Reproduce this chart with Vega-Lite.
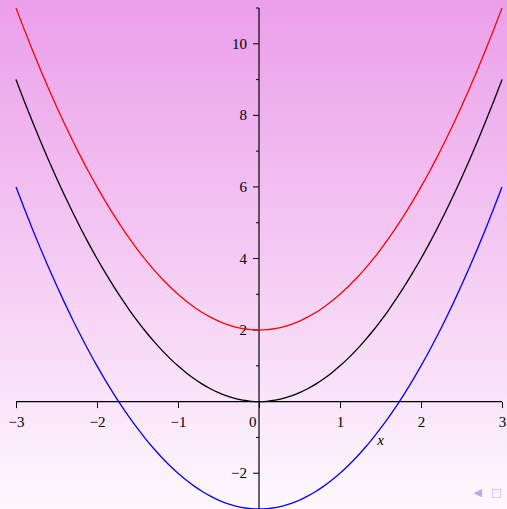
{
  "$schema": "https://vega.github.io/schema/vega-lite/v6.json",
  "width": 507,
  "height": 509,
  "padding": 0,
  "autosize": "none",
  "background": "#fef9fe",
  "config": {
    "view": {"stroke": null},
    "axis": {
      "labelColor": "#000000",
      "tickColor": "#000000",
      "tickWidth": 1,
      "domain": false,
      "grid": false,
      "labelOverlap": false,
      "labelFlush": false
    }
  },
  "layer": [
    {
      "data": {"values": [{}]},
      "mark": {
        "type": "rect",
        "fill": {
          "gradient": "linear",
          "x1": 0, "y1": 0, "x2": 0, "y2": 1,
          "stops": [
            {"offset": 0, "color": "#eb9fea"},
            {"offset": 0.5, "color": "#f4caf3"},
            {"offset": 1, "color": "#fef9fe"}
          ]
        }
      },
      "encoding": {
        "x": {"value": 0},
        "x2": {"value": "width"},
        "y": {"value": 0},
        "y2": {"value": "height"}
      }
    },
    {
      "data": {"values": [
        {"x": -3, "y": 0, "x2": 3, "y2": 0},
        {"x": 0, "y": -3, "x2": 0, "y2": 11}
      ]},
      "mark": {"type": "rule", "color": "#000000", "strokeWidth": 1.2},
      "encoding": {
        "x": {
          "field": "x",
          "type": "quantitative",
          "scale": {"domain": [-3.1975, 3.0617], "nice": false, "zero": false},
          "axis": {
            "orient": "bottom",
            "offset": -107.4,
            "zindex": 2,
            "values": [-3, -2.5, -2, -1.5, -1, -0.5, 0, 0.5, 1, 1.5, 2, 2.5, 3],
            "format": "d",
            "labelExpr": "datum.value % 1 === 0 ? datum.label : ''",
            "labelFont": "Liberation Serif",
            "labelFontSize": 15,
            "tickSize": {"condition": {"test": "datum.value % 1 === 0", "value": 6}, "value": 4},
            "labelPadding": 7,
            "labelAlign": {"condition": {"test": "datum.value === 0", "value": "right"}, "value": "center"},
            "labelOffset": {"condition": {"test": "datum.value === 0", "value": -3}, "value": 0},
            "title": "x",
            "titleFont": "Liberation Serif",
            "titleFontStyle": "italic",
            "titleFontWeight": "normal",
            "titleFontSize": 15,
            "titleX": 380,
            "titleY": 43,
            "titleAlign": "center",
            "titleBaseline": "alphabetic"
          }
        },
        "x2": {"field": "x2"},
        "y": {
          "field": "y",
          "type": "quantitative",
          "scale": {"domain": [-3, 11.2236], "nice": false, "zero": false},
          "axis": null
        },
        "y2": {"field": "y2"}
      }
    },
    {
      "data": {"values": [
        {"v": -2}, {"v": 2}, {"v": 4}, {"v": 6}, {"v": 8}, {"v": 10}
      ]},
      "mark": {"type": "rule", "color": "#000000", "strokeWidth": 1, "x2Offset": -6},
      "encoding": {
        "x": {"datum": 0, "type": "quantitative"},
        "x2": {"datum": 0},
        "y": {"field": "v", "type": "quantitative", "axis": null}
      }
    },
    {
      "data": {"values": [
        {"v": -1}, {"v": 1}, {"v": 3}, {"v": 5}, {"v": 7}, {"v": 9}, {"v": 11}
      ]},
      "mark": {"type": "rule", "color": "#000000", "strokeWidth": 1, "x2Offset": -3},
      "encoding": {
        "x": {"datum": 0, "type": "quantitative"},
        "x2": {"datum": 0},
        "y": {"field": "v", "type": "quantitative", "axis": null}
      }
    },
    {
      "data": {"values": [
        {"v": -2, "label": "−2"},
        {"v": 2, "label": "2"},
        {"v": 4, "label": "4"},
        {"v": 6, "label": "6"},
        {"v": 8, "label": "8"},
        {"v": 10, "label": "10"}
      ]},
      "mark": {"type": "text", "align": "right", "baseline": "middle", "dx": -12, "font": "Liberation Serif", "fontSize": 15, "color": "#000000"},
      "encoding": {
        "x": {"datum": 0, "type": "quantitative"},
        "y": {"field": "v", "type": "quantitative", "axis": null},
        "text": {"field": "label"}
      }
    },
    {
      "data": {"values": [
        {"x": -3.0, "red": 11.0, "black": 9.0, "blue": 6.0},
        {"x": -2.9, "red": 10.41, "black": 8.41, "blue": 5.41},
        {"x": -2.8, "red": 9.84, "black": 7.84, "blue": 4.84},
        {"x": -2.7, "red": 9.29, "black": 7.29, "blue": 4.29},
        {"x": -2.6, "red": 8.76, "black": 6.76, "blue": 3.76},
        {"x": -2.5, "red": 8.25, "black": 6.25, "blue": 3.25},
        {"x": -2.4, "red": 7.76, "black": 5.76, "blue": 2.76},
        {"x": -2.3, "red": 7.29, "black": 5.29, "blue": 2.29},
        {"x": -2.2, "red": 6.84, "black": 4.84, "blue": 1.84},
        {"x": -2.1, "red": 6.41, "black": 4.41, "blue": 1.41},
        {"x": -2.0, "red": 6.0, "black": 4.0, "blue": 1.0},
        {"x": -1.9, "red": 5.61, "black": 3.61, "blue": 0.61},
        {"x": -1.8, "red": 5.24, "black": 3.24, "blue": 0.24},
        {"x": -1.7, "red": 4.89, "black": 2.89, "blue": -0.11},
        {"x": -1.6, "red": 4.56, "black": 2.56, "blue": -0.44},
        {"x": -1.5, "red": 4.25, "black": 2.25, "blue": -0.75},
        {"x": -1.4, "red": 3.96, "black": 1.96, "blue": -1.04},
        {"x": -1.3, "red": 3.69, "black": 1.69, "blue": -1.31},
        {"x": -1.2, "red": 3.44, "black": 1.44, "blue": -1.56},
        {"x": -1.1, "red": 3.21, "black": 1.21, "blue": -1.79},
        {"x": -1.0, "red": 3.0, "black": 1.0, "blue": -2.0},
        {"x": -0.9, "red": 2.81, "black": 0.81, "blue": -2.19},
        {"x": -0.8, "red": 2.64, "black": 0.64, "blue": -2.36},
        {"x": -0.7, "red": 2.49, "black": 0.49, "blue": -2.51},
        {"x": -0.6, "red": 2.36, "black": 0.36, "blue": -2.64},
        {"x": -0.5, "red": 2.25, "black": 0.25, "blue": -2.75},
        {"x": -0.4, "red": 2.16, "black": 0.16, "blue": -2.84},
        {"x": -0.3, "red": 2.09, "black": 0.09, "blue": -2.91},
        {"x": -0.2, "red": 2.04, "black": 0.04, "blue": -2.96},
        {"x": -0.1, "red": 2.01, "black": 0.01, "blue": -2.99},
        {"x": 0.0, "red": 2.0, "black": 0.0, "blue": -3.0},
        {"x": 0.1, "red": 2.01, "black": 0.01, "blue": -2.99},
        {"x": 0.2, "red": 2.04, "black": 0.04, "blue": -2.96},
        {"x": 0.3, "red": 2.09, "black": 0.09, "blue": -2.91},
        {"x": 0.4, "red": 2.16, "black": 0.16, "blue": -2.84},
        {"x": 0.5, "red": 2.25, "black": 0.25, "blue": -2.75},
        {"x": 0.6, "red": 2.36, "black": 0.36, "blue": -2.64},
        {"x": 0.7, "red": 2.49, "black": 0.49, "blue": -2.51},
        {"x": 0.8, "red": 2.64, "black": 0.64, "blue": -2.36},
        {"x": 0.9, "red": 2.81, "black": 0.81, "blue": -2.19},
        {"x": 1.0, "red": 3.0, "black": 1.0, "blue": -2.0},
        {"x": 1.1, "red": 3.21, "black": 1.21, "blue": -1.79},
        {"x": 1.2, "red": 3.44, "black": 1.44, "blue": -1.56},
        {"x": 1.3, "red": 3.69, "black": 1.69, "blue": -1.31},
        {"x": 1.4, "red": 3.96, "black": 1.96, "blue": -1.04},
        {"x": 1.5, "red": 4.25, "black": 2.25, "blue": -0.75},
        {"x": 1.6, "red": 4.56, "black": 2.56, "blue": -0.44},
        {"x": 1.7, "red": 4.89, "black": 2.89, "blue": -0.11},
        {"x": 1.8, "red": 5.24, "black": 3.24, "blue": 0.24},
        {"x": 1.9, "red": 5.61, "black": 3.61, "blue": 0.61},
        {"x": 2.0, "red": 6.0, "black": 4.0, "blue": 1.0},
        {"x": 2.1, "red": 6.41, "black": 4.41, "blue": 1.41},
        {"x": 2.2, "red": 6.84, "black": 4.84, "blue": 1.84},
        {"x": 2.3, "red": 7.29, "black": 5.29, "blue": 2.29},
        {"x": 2.4, "red": 7.76, "black": 5.76, "blue": 2.76},
        {"x": 2.5, "red": 8.25, "black": 6.25, "blue": 3.25},
        {"x": 2.6, "red": 8.76, "black": 6.76, "blue": 3.76},
        {"x": 2.7, "red": 9.29, "black": 7.29, "blue": 4.29},
        {"x": 2.8, "red": 9.84, "black": 7.84, "blue": 4.84},
        {"x": 2.9, "red": 10.41, "black": 8.41, "blue": 5.41},
        {"x": 3.0, "red": 11.0, "black": 9.0, "blue": 6.0}
      ]},
      "transform": [{"fold": ["red", "black", "blue"], "as": ["curve", "y"]}],
      "mark": {"type": "line", "strokeWidth": 1.3, "interpolate": "monotone"},
      "encoding": {
        "x": {"field": "x", "type": "quantitative"},
        "y": {"field": "y", "type": "quantitative", "axis": null},
        "color": {
          "field": "curve",
          "type": "nominal",
          "scale": {"domain": ["red", "black", "blue"], "range": ["#ff0000", "#000000", "#0000ff"]},
          "legend": null
        },
        "detail": {"field": "curve"}
      }
    },
    {
      "data": {"values": [
        {"x": 2.7, "y": -2.55, "icon": "◀"},
        {"x": 2.93, "y": -2.55, "icon": "□"}
      ]},
      "mark": {"type": "text", "color": "#c9a2e6", "fontSize": 11, "font": "DejaVu Sans"},
      "encoding": {
        "x": {"field": "x", "type": "quantitative"},
        "y": {"field": "y", "type": "quantitative", "axis": null},
        "text": {"field": "icon"}
      }
    }
  ]
}
